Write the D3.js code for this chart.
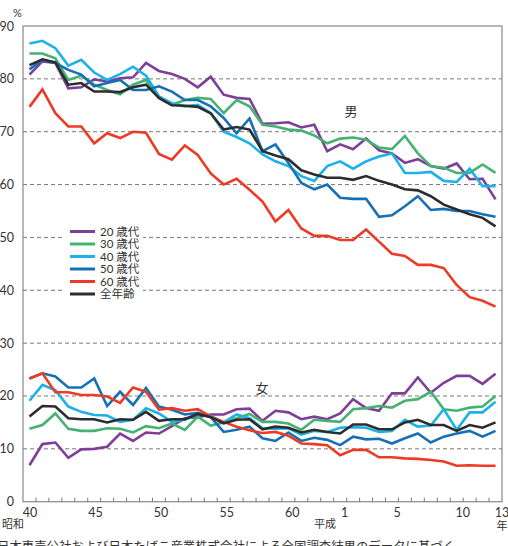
<!DOCTYPE html>
<html>
<head>
<meta charset="utf-8">
<style>
  body { margin: 0; background: #fff; }
  svg { display: block; font-family: "Lato", "Noto Sans CJK JP", sans-serif; }
  text { fill: #333; }
</style>
</head>
<body>
<script src="https://cdn.jsdelivr.net/npm/d3@7"></script>
<script>
// years: Showa 40..63, Heisei 1..13
var years = [];
for (var s = 40; s <= 63; s++) years.push("S" + s);
for (var h = 1; h <= 13; h++) years.push("H" + h);

var tickYears = ["S40", "S45", "S50", "S55", "S60", "H1", "H5", "H10", "H13"];
var yTicks = [0, 10, 20, 30, 40, 50, 60, 70, 80, 90];

var series = ["20 歳代", "30 歳代", "40 歳代", "50 歳代", "60 歳代", "全年齢"];
var colors = ["#7f3f98", "#45b272", "#1cb1e8", "#1670b6", "#ee3a24", "#2d2d2d"];

// 男
var male20 = [80.8, 83.3, 83.0, 78.2, 78.4, 79.9, 79.5, 80.1, 80.3, 83.0, 81.5, 80.9, 80.0, 78.4, 80.4, 77.0, 76.4, 76.2, 71.5, 71.6, 71.8, 70.8, 71.3, 66.3, 67.6, 66.7, 68.7, 66.5, 65.9, 64.1, 64.8, 63.5, 63.0, 64.0, 61.0, 61.1, 57.2];
var male30 = [84.8, 84.8, 83.9, 79.8, 80.6, 78.9, 77.9, 77.1, 78.9, 79.8, 76.4, 75.1, 76.0, 76.4, 76.2, 73.5, 76.0, 74.8, 71.3, 71.0, 70.4, 70.2, 69.3, 67.8, 68.7, 68.9, 68.5, 67.0, 66.7, 69.2, 65.9, 63.5, 63.2, 62.2, 62.2, 63.8, 62.2];
var male40 = [86.7, 87.2, 85.8, 82.5, 83.6, 81.2, 79.8, 80.9, 82.3, 80.6, 76.7, 75.4, 74.8, 75.1, 73.5, 70.0, 69.0, 67.8, 65.7, 64.4, 63.5, 61.6, 60.7, 63.5, 64.4, 63.0, 64.4, 65.3, 65.9, 62.2, 62.2, 62.4, 60.7, 60.5, 63.0, 59.7, 59.7];
var male50 = [81.8, 83.6, 83.0, 81.7, 80.8, 78.6, 79.2, 79.8, 77.9, 77.9, 78.6, 77.6, 76.0, 76.0, 74.8, 72.6, 69.7, 72.5, 66.3, 67.6, 64.1, 60.3, 59.1, 60.0, 57.5, 57.3, 57.3, 53.9, 54.2, 55.9, 57.8, 55.2, 55.4, 55.0, 55.0, 54.4, 53.9];
var male60 = [74.7, 78.0, 73.5, 71.0, 71.0, 67.8, 69.7, 68.8, 70.0, 69.8, 65.8, 64.7, 67.4, 65.6, 62.1, 60.0, 61.1, 59.0, 56.8, 53.0, 55.2, 51.7, 50.3, 50.3, 49.5, 49.5, 51.5, 49.2, 46.9, 46.5, 44.8, 44.8, 44.2, 41.0, 38.7, 38.0, 36.9];
var maleAll = [82.6, 83.7, 83.1, 78.9, 79.2, 77.6, 77.6, 77.5, 78.4, 78.9, 76.4, 75.0, 74.9, 74.7, 73.5, 70.4, 70.9, 70.4, 66.3, 65.5, 64.8, 62.7, 61.9, 61.3, 61.3, 60.9, 61.6, 60.7, 60.0, 59.1, 58.9, 57.8, 56.2, 55.3, 54.4, 53.7, 52.1];

// 女
var female20 = [6.9, 10.9, 11.2, 8.3, 9.9, 10.0, 10.4, 12.9, 11.5, 13.1, 12.9, 14.3, 15.8, 16.0, 16.5, 16.5, 17.5, 17.6, 15.3, 17.2, 16.9, 15.6, 16.1, 15.6, 16.7, 19.4, 17.7, 17.2, 20.5, 20.5, 23.5, 20.6, 22.5, 23.8, 23.8, 22.3, 24.2];
var female30 = [13.8, 14.5, 16.7, 13.8, 13.4, 13.4, 13.9, 13.8, 13.1, 14.3, 13.9, 14.8, 13.6, 16.1, 14.4, 15.0, 15.8, 16.6, 15.1, 15.1, 14.8, 13.6, 15.5, 15.3, 15.1, 17.5, 17.7, 18.1, 17.8, 19.1, 19.4, 20.8, 17.5, 17.2, 17.8, 18.0, 20.0];
var female40 = [19.1, 22.1, 21.1, 18.0, 17.0, 16.4, 16.3, 15.1, 15.5, 17.7, 16.7, 15.1, 15.5, 16.5, 16.2, 15.0, 16.5, 15.8, 13.9, 13.8, 13.9, 12.7, 13.4, 13.2, 14.0, 14.1, 14.0, 13.2, 13.4, 15.5, 14.2, 14.4, 17.5, 13.6, 16.9, 16.9, 18.9];
var female50 = [23.3, 24.3, 23.7, 21.6, 21.6, 23.3, 18.1, 20.8, 18.3, 21.5, 18.0, 17.4, 16.5, 16.8, 16.0, 13.2, 13.6, 14.2, 12.0, 11.5, 13.1, 11.5, 12.1, 11.7, 10.7, 12.3, 11.8, 11.9, 11.0, 12.0, 12.9, 11.2, 12.3, 12.9, 13.4, 12.3, 13.4];
var female60 = [23.3, 24.3, 20.7, 20.7, 20.2, 20.2, 19.9, 18.7, 21.6, 20.8, 17.4, 17.7, 17.2, 17.5, 16.1, 15.1, 14.2, 13.5, 13.0, 13.2, 12.5, 11.0, 10.9, 10.7, 8.8, 9.8, 9.8, 8.4, 8.4, 8.2, 8.1, 7.9, 7.6, 6.8, 6.9, 6.8, 6.8];
var femaleAll = [16.1, 18.1, 18.0, 15.8, 15.6, 15.6, 15.0, 15.6, 15.5, 17.0, 15.3, 15.6, 15.6, 16.6, 16.0, 14.8, 15.5, 15.6, 13.7, 14.2, 14.0, 13.1, 13.6, 13.2, 12.9, 14.6, 14.6, 13.7, 13.7, 15.0, 15.5, 14.5, 14.5, 13.4, 14.5, 14.0, 15.0];

var maleSeries = [male20, male30, male40, male50, male60, maleAll];
var femaleSeries = [female20, female30, female40, female50, female60, femaleAll];

var W = 508, H = 546;
var plotL = 23, plotR = 502, plotT = 26, plotB = 501.7;

var svg = d3.select("body").append("svg")
  .attr("width", W)
  .attr("height", H);

var x = d3.scaleBand().domain(years).range([plotL, plotR]).padding(0);
var xl = d3.scaleLinear().domain([0, years.length - 1]).range([30, 502]); // label positions
var y = d3.scaleLinear().domain([0, 90]).range([plotB, plotT]);

function cx(d) { return x(d) + x.bandwidth() / 2; }

// grid
svg.append("g").selectAll("line").data(yTicks.filter(function(v) { return v > 0 && v < 90; }))
  .enter().append("line")
  .attr("x1", plotL).attr("x2", plotR)
  .attr("y1", function(d) { return y(d); }).attr("y2", function(d) { return y(d); })
  .attr("stroke", "#777").attr("stroke-width", 1).attr("stroke-dasharray", "4,3");

// frame
svg.append("rect")
  .attr("x", plotL).attr("y", plotT)
  .attr("width", plotR - plotL).attr("height", plotB - plotT)
  .attr("fill", "none").attr("stroke", "#888").attr("stroke-width", 1.2);

// x ticks at band edges
svg.append("g").selectAll("line").data(years.slice(1))
  .enter().append("line")
  .attr("x1", function(d) { return x(d); }).attr("x2", function(d) { return x(d); })
  .attr("y1", plotB).attr("y2", plotB - 4)
  .attr("stroke", "#777").attr("stroke-width", 1);

// y labels
svg.append("g").selectAll("text").data(yTicks)
  .enter().append("text")
  .attr("x", 14).attr("y", function(d) { return y(d) + 4.5; })
  .attr("text-anchor", "end")
  .attr("font-size", 12.5)
  .text(function(d) { return d; });

svg.append("text").attr("x", 13).attr("y", 17).attr("font-size", 11).text("%");

// x labels
svg.append("g").selectAll("text").data(tickYears)
  .enter().append("text")
  .attr("x", function(d) { return xl(years.indexOf(d)); })
  .attr("y", 517)
  .attr("text-anchor", "middle")
  .attr("font-size", 12.5)
  .text(function(d) { return d.slice(1); });

svg.append("text").attr("x", 2).attr("y", 528).attr("font-size", 11).text("昭和");
svg.append("text").attr("x", 325).attr("y", 528).attr("text-anchor", "middle").attr("font-size", 11).text("平成");
svg.append("text").attr("x", 502).attr("y", 529.5).attr("text-anchor", "middle").attr("font-size", 11).text("年");

// lines
var line = d3.line()
  .x(function(d, i) { return cx(years[i]); })
  .y(function(d) { return y(d); });

function drawGroup(data) {
  svg.append("g").selectAll("path").data(data)
    .enter().append("path")
    .attr("d", line)
    .attr("fill", "none")
    .attr("stroke", function(d, i) { return colors[i]; })
    .attr("stroke-width", 2.6)
    .attr("stroke-linejoin", "miter");
}
drawGroup(femaleSeries);
drawGroup(maleSeries);

svg.append("text").attr("x", 351).attr("y", 116).attr("text-anchor", "middle").attr("font-size", 13).text("男");
svg.append("text").attr("x", 262).attr("y", 393).attr("text-anchor", "middle").attr("font-size", 13).text("女");

// legend
var lg = svg.append("g");
lg.append("rect").attr("x", 65).attr("y", 224).attr("width", 78).attr("height", 77).attr("fill", "#fff");
var item = lg.selectAll("g").data(series).enter().append("g")
  .attr("transform", function(d, i) { return "translate(0," + (231.5 + i * 12.5) + ")"; });
item.append("line")
  .attr("x1", 70).attr("x2", 95)
  .attr("stroke", function(d, i) { return colors[i]; })
  .attr("stroke-width", 3);
item.append("text")
  .attr("x", 100).attr("y", 4.3)
  .attr("font-size", 11.5)
  .text(function(d) { return d; });

// source
svg.append("text").attr("x", -3).attr("y", 551).attr("font-size", 12.4)
  .text("日本専売公社および日本たばこ産業株式会社による全国調査結果のデータに基づく");
</script>
</body>
</html>
